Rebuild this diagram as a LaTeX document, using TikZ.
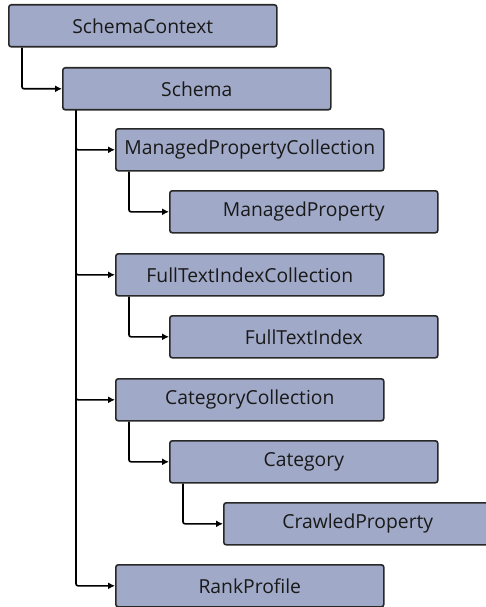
\documentclass[tikz,border=0pt]{standalone}
\usepackage{fontspec}
\setmainfont{Open Sans}
\usetikzlibrary{arrows.meta}
\definecolor{boxfill}{RGB}{160,169,199}
\definecolor{boxline}{RGB}{40,40,40}
\tikzset{
  cls/.style={draw=boxline, line width=1.6pt, fill=boxfill, rounded corners=2.5pt,
    minimum width=268pt, minimum height=42pt, inner sep=0pt, anchor=north west,
    font=\fontsize{19.3}{22}\selectfont, text=black!90},
  link/.style={line width=1.6pt, rounded corners=2pt, -{Latex[length=7pt,width=7pt]}},
}
\begin{document}
\begin{tikzpicture}[x=1pt,y=-1pt]
\useasboundingbox (0,0) rectangle (486,607);
\clip (0,0) rectangle (486,607);
\fill[white] (0,0) rectangle (486,607);
% boxes, top-left corners
\node[cls] (ctx)  at (8,4)     {SchemaContext};
\node[cls] (sch)  at (62,67)   {Schema};
\node[cls] (mpc)  at (115,128) {ManagedPropertyCollection};
\node[cls] (mp)   at (169,190) {ManagedProperty};
\node[cls] (ftc)  at (115,253) {FullTextIndexCollection};
\node[cls] (fti)  at (169,315) {FullTextIndex};
\node[cls] (cc)   at (115,378) {CategoryCollection};
\node[cls] (cat)  at (169,440) {Category};
\node[cls] (crp)  at (223,502) {CrawledProperty};
\node[cls] (rank) at (115,564) {RankProfile};
% parent-child connectors
\draw[link] (ctx.south west) ++(14,0) |- (sch.west);
\draw[link] (sch.south west) ++(14,0) |- (mpc.west);
\draw[link] (sch.south west) ++(14,0) |- (ftc.west);
\draw[link] (sch.south west) ++(14,0) |- (cc.west);
\draw[link] (sch.south west) ++(14,0) |- (rank.west);
\draw[link] (mpc.south west) ++(14,0) |- (mp.west);
\draw[link] (ftc.south west) ++(14,0) |- (fti.west);
\draw[link] (cc.south west) ++(14,0) |- (cat.west);
\draw[link] (cat.south west) ++(14,0) |- (crp.west);
\end{tikzpicture}
\end{document}
